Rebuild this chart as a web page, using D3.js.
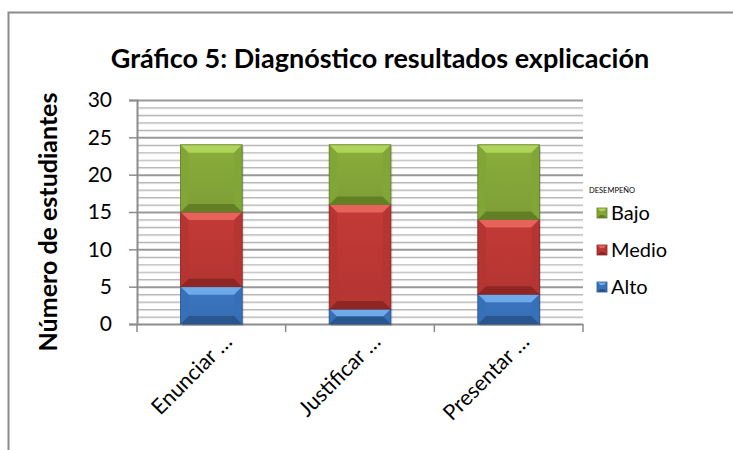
<!DOCTYPE html>
<html>
<head>
<meta charset="utf-8">
<script src="https://cdn.jsdelivr.net/npm/d3@7"></script>
<style>
  body { margin: 0; background: #fff; }
  svg { display: block; font-family: Lato, "Open Sans", sans-serif; }
</style>
</head>
<body>
<div id="chart"></div>
<script>
// Chart data
const categories = ['Enunciar …', 'Justificar …', 'Presentar …'];
const seriesNames = ['Alto', 'Medio', 'Bajo'];
const alto = [5, 2, 4];
const medio = [10, 14, 10];
const bajo = [9, 8, 10];
const yTicks = [0, 5, 10, 15, 20, 25, 30];

const palette = {
    Alto: { base: '#3b77c2', light: '#6ea9ea', dark: '#2a568f', side: '#3670b8' },
    Medio: { base: '#c43a37', light: '#e8625c', dark: '#8e2624', side: '#b53533' },
    Bajo: { base: '#8aad3b', light: '#b0d35a', dark: '#637f26', side: '#82a537' }
};

const width = 733, height = 450;
const plot = { left: 137, right: 583, top: 100, bottom: 324 };

const svg = d3.select('#chart').append('svg')
    .attr('width', width)
    .attr('height', height);

// outer frame (runs off the right and bottom edges)
svg.append('rect')
    .attr('x', 8.5).attr('y', 12.5)
    .attr('width', 800).attr('height', 500)
    .attr('fill', 'none')
    .attr('stroke', '#8c8c8c')
    .attr('stroke-width', 2);

svg.append('text')
    .attr('x', 380).attr('y', 68)
    .attr('text-anchor', 'middle')
    .attr('font-size', 27)
    .attr('font-weight', 'bold')
    .attr('fill', '#000')
    .text('Gráfico 5:  Diagnóstico resultados explicación');

const x = d3.scaleBand().domain(categories).range([plot.left, plot.right]).padding(0);
const y = d3.scaleLinear().domain([0, 30]).range([plot.bottom, plot.top]);

// gridlines
const minor = d3.range(1, 30).filter(v => v % 5 !== 0);
const grid = svg.append('g');
grid.selectAll('line.minor-shadow').data(minor).enter().append('line')
    .attr('x1', plot.left).attr('x2', plot.right)
    .attr('y1', d => y(d) + 1.5).attr('y2', d => y(d) + 1.5)
    .attr('stroke', '#e6e6e6').attr('stroke-width', 1);
grid.selectAll('line.minor').data(minor).enter().append('line')
    .attr('x1', plot.left).attr('x2', plot.right)
    .attr('y1', d => y(d) + 0.5).attr('y2', d => y(d) + 0.5)
    .attr('stroke', '#b8b8b8').attr('stroke-width', 1.2);
grid.selectAll('line.major').data(yTicks.slice(1)).enter().append('line')
    .attr('x1', plot.left).attr('x2', plot.right)
    .attr('y1', d => y(d) + 0.5).attr('y2', d => y(d) + 0.5)
    .attr('stroke', '#999').attr('stroke-width', 2);

// axes
const yAxis = d3.axisLeft(y).tickValues(yTicks).tickSize(8).tickPadding(17);
const gy = svg.append('g').attr('transform', `translate(${plot.left},0)`).call(yAxis);
gy.select('.domain').attr('stroke', '#8c8c8c').attr('stroke-width', 2);
gy.selectAll('.tick line').attr('stroke', '#8c8c8c').attr('stroke-width', 1.5);
gy.selectAll('.tick text').attr('font-size', 21).attr('fill', '#000')
    .attr('font-family', 'Lato, sans-serif');

const bounds = [plot.left, ...categories.map(c => x(c) + x.bandwidth())];
const gx = svg.append('g');
gx.append('line')
    .attr('x1', plot.left).attr('x2', plot.right)
    .attr('y1', plot.bottom + 0.5).attr('y2', plot.bottom + 0.5)
    .attr('stroke', '#8c8c8c').attr('stroke-width', 2);
gx.selectAll('line.tick').data(bounds).enter().append('line')
    .attr('x1', d => d).attr('x2', d => d)
    .attr('y1', plot.bottom).attr('y2', plot.bottom + 8)
    .attr('stroke', '#8c8c8c').attr('stroke-width', 1.5);
gx.selectAll('text').data(categories).enter().append('text')
    .attr('transform', d => `translate(${x(d) + x.bandwidth() / 2 + 22},${plot.bottom + 19}) rotate(-45)`)
    .attr('text-anchor', 'end')
    .attr('font-size', 21.5)
    .attr('fill', '#000')
    .text(d => d);

svg.append('text')
    .attr('transform', `translate(57,${(plot.top + plot.bottom) / 2 + 10}) rotate(-90)`)
    .attr('text-anchor', 'middle')
    .attr('font-size', 25)
    .attr('font-weight', 'bold')
    .text('Número de estudiantes');

// bevelled block, like Excel 2007 bars
function bevelBlock(g, x0, y0, w, h, c, b) {
    b = Math.min(b, h / 2, w / 2);
    const x1 = x0 + w, y1 = y0 + h;
    const grad = 'g' + Math.random().toString(36).slice(2, 8);
    const lg = svg.append('defs').append('linearGradient').attr('id', grad)
        .attr('x1', 0).attr('x2', 0).attr('y1', 0).attr('y2', 1);
    lg.append('stop').attr('offset', 0).attr('stop-color', c.base);
    lg.append('stop').attr('offset', 1).attr('stop-color', d3.color(c.base).darker(0.25));
    g.append('rect').attr('x', x0).attr('y', y0).attr('width', w).attr('height', h)
        .attr('fill', `url(#${grad})`);
    const poly = (pts, fill) => g.append('polygon')
        .attr('points', pts.map(p => p.join(',')).join(' ')).attr('fill', fill);
    poly([[x0, y0], [x1, y0], [x1 - b, y0 + b], [x0 + b, y0 + b]], c.light);
    poly([[x0, y1], [x1, y1], [x1 - b, y1 - b], [x0 + b, y1 - b]], c.dark);
    poly([[x0, y0], [x0 + b, y0 + b], [x0 + b, y1 - b], [x0, y1]], c.side);
    poly([[x1, y0], [x1 - b, y0 + b], [x1 - b, y1 - b], [x1, y1]], c.side);
    g.append('rect').attr('x', x0).attr('y', y0).attr('width', w).attr('height', h)
        .attr('fill', 'none').attr('stroke', c.dark).attr('stroke-width', 0.8);
}

const stacks = categories.map((c, i) => {
    const vals = [alto[i], medio[i], bajo[i]];
    let acc = 0;
    return vals.map((v, k) => {
        const seg = { cat: c, name: seriesNames[k], y0: acc, y1: acc + v };
        acc += v;
        return seg;
    });
});

const barW = x.bandwidth() * 0.415;
const bars = svg.append('g');
stacks.forEach(stack => {
    const top = stack[stack.length - 1];
    const cx = x(stack[0].cat) + x.bandwidth() / 2;
    // soft shadow
    bars.append('rect')
        .attr('x', cx - barW / 2 + 1.5).attr('y', y(top.y1) + 2)
        .attr('width', barW).attr('height', y(0) - y(top.y1))
        .attr('fill', '#000').attr('opacity', 0.15);
    stack.forEach(s => {
        bevelBlock(bars, cx - barW / 2, y(s.y1), barW, y(s.y0) - y(s.y1), palette[s.name], 8);
    });
});

// legend
const legend = svg.append('g');
legend.append('text')
    .attr('x', 589).attr('y', 193)
    .attr('font-size', 7.5)
    .attr('fill', '#000')
    .text('DESEMPEÑO');
const legendItems = ['Bajo', 'Medio', 'Alto'];
const legendY = d3.scalePoint().domain(legendItems).range([213, 287]);
legendItems.forEach(name => {
    const ly = legendY(name);
    bevelBlock(legend, 597, ly - 5, 10, 10, palette[name], 3);
    legend.append('text')
        .attr('x', 611).attr('y', ly + 7)
        .attr('font-size', 20)
        .attr('fill', '#000')
        .text(name);
});
</script>
</body>
</html>
